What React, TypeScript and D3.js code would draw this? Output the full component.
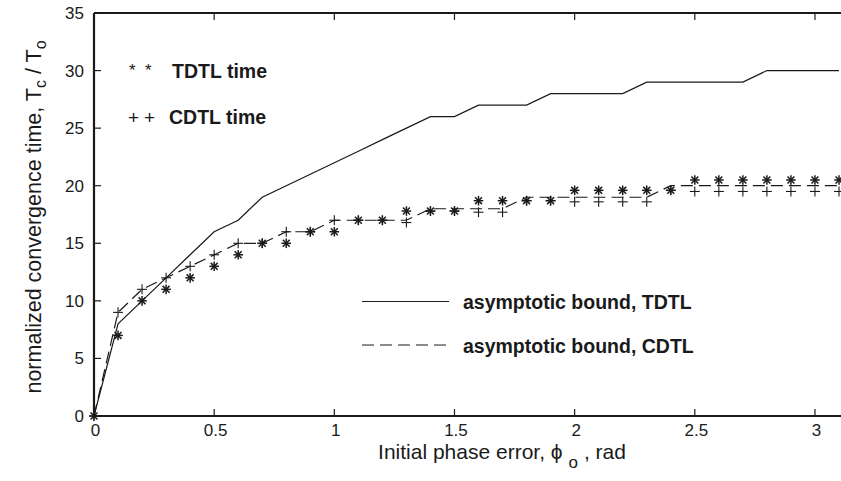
import React from 'react';
import * as d3 from 'd3';

const phase = [0, 0.1, 0.2, 0.3, 0.4, 0.5, 0.6, 0.7, 0.8, 0.9, 1.0, 1.1, 1.2, 1.3, 1.4, 1.5, 1.6, 1.7, 1.8, 1.9, 2.0, 2.1, 2.2, 2.3, 2.4, 2.5, 2.6, 2.7, 2.8, 2.9, 3.0, 3.1];
const boundTDTL = [0, 8, 10, 12, 14, 16, 17, 19, 20, 21, 22, 23, 24, 25, 26, 26, 27, 27, 27, 28, 28, 28, 28, 29, 29, 29, 29, 29, 30, 30, 30, 30];
const boundCDTL = [0, 9, 11, 12, 13, 14, 15, 15, 16, 16, 17, 17, 17, 17, 18, 18, 18, 18, 19, 19, 19, 19, 19, 19, 20, 20, 20, 20, 20, 20, 20, 20];
const timeTDTL = [0, 7, 10, 11, 12, 13, 14, 15, 15, 16, 16, 17, 17, 17.8, 17.8, 17.8, 18.7, 18.7, 18.7, 18.7, 19.6, 19.6, 19.6, 19.6, 19.6, 20.5, 20.5, 20.5, 20.5, 20.5, 20.5, 20.5];
const timeCDTL = [0, 9, 11, 12, 13, 14, 15, 15, 16, 16, 17, 17, 17, 16.8, 17.8, 17.8, 17.7, 17.7, 18.7, 18.7, 18.6, 18.6, 18.6, 18.6, 19.6, 19.5, 19.5, 19.5, 19.5, 19.5, 19.5, 19.5];
const xTicks = [0, 0.5, 1, 1.5, 2, 2.5, 3];
const xTickLabels = ['0', '0.5', '1', '1.5', '2', '2.5', '3'];
const yTicks = [0, 5, 10, 15, 20, 25, 30, 35];
const legendTop = ['TDTL time', 'CDTL time'];
const legendBottom = ['asymptotic bound, TDTL', 'asymptotic bound, CDTL'];

const W = 841;
const H = 481;
const FONT = '"Liberation Sans", Arial, Helvetica, sans-serif';
const INK = '#1a1a1a';

export default function App() {
  const x = d3.scaleLinear().domain([0, 3.1]).range([94, 839]);
  const y = d3.scaleLinear().domain([0, 35]).range([416, 13]);
  const line = d3.line<number>().x((_, i) => x(phase[i])).y((d) => y(d));

  const star = (cx: number, cy: number, k: string) => {
    const r = 4.8;
    const d = r * 0.72;
    return (
      <g key={k} stroke={INK} strokeWidth={1.5}>
        <line x1={cx - r} y1={cy} x2={cx + r} y2={cy} />
        <line x1={cx} y1={cy - r} x2={cx} y2={cy + r} />
        <line x1={cx - d} y1={cy - d} x2={cx + d} y2={cy + d} />
        <line x1={cx - d} y1={cy + d} x2={cx + d} y2={cy - d} />
      </g>
    );
  };
  const plus = (cx: number, cy: number, k: string) => {
    const r = 5;
    return (
      <g key={k} stroke={INK} strokeWidth={1.1}>
        <line x1={cx - r} y1={cy} x2={cx + r} y2={cy} />
        <line x1={cx} y1={cy - r} x2={cx} y2={cy + r} />
      </g>
    );
  };

  const [x0] = x.range();
  const [yb, yt] = y.range();

  return (
    <svg width={W} height={H} style={{ position: 'absolute', left: 0, top: 0, background: '#fff' }} fontFamily={FONT}>
      <rect x={0} y={0} width={W} height={H} fill="#fff" />
      {/* data */}
      <path d={line(boundTDTL) || ''} fill="none" stroke={INK} strokeWidth={1.2} />
      <path d={line(boundCDTL) || ''} fill="none" stroke={INK} strokeWidth={1.2} strokeDasharray="12,6" />
      {timeCDTL.map((v, i) => plus(x(phase[i]), y(v), 'p' + i))}
      {timeTDTL.map((v, i) => star(x(phase[i]), y(v), 's' + i))}

      {/* frame */}
      <line x1={x0} y1={yt} x2={W} y2={yt} stroke={INK} strokeWidth={2} />
      <line x1={x0} y1={yb} x2={W} y2={yb} stroke={INK} strokeWidth={2.2} />
      <line x1={x0} y1={yt} x2={x0} y2={yb} stroke={INK} strokeWidth={2.2} />

      {/* x ticks */}
      {xTicks.map((t, i) => (
        <g key={'xt' + i}>
          <line x1={x(t)} y1={yb} x2={x(t)} y2={yb - 7} stroke={INK} strokeWidth={1.2} />
          <line x1={x(t)} y1={yt} x2={x(t)} y2={yt + 7} stroke={INK} strokeWidth={1.2} />
          <text x={x(t) + 1.5} y={yb + 20} fontSize={17} textAnchor="middle" fill={INK}>{xTickLabels[i]}</text>
        </g>
      ))}
      {/* y ticks */}
      {yTicks.map((t, i) => (
        <g key={'yt' + i}>
          <line x1={x0} y1={y(t)} x2={x0 + 7} y2={y(t)} stroke={INK} strokeWidth={1.2} />
          <text x={84} y={y(t) + 6} fontSize={17} textAnchor="end" fill={INK}>{t}</text>
        </g>
      ))}

      {/* axis labels */}
      <text x={502} y={459} fontSize={21} textAnchor="middle" fill={INK}>
        Initial phase error, <tspan>ϕ</tspan><tspan dx={6} dy={9} fontSize={17}>o</tspan><tspan dy={-9}> , rad</tspan>
      </text>
      <text transform="translate(41,217) rotate(-90)" fontSize={21.5} textAnchor="middle" fill={INK}>
        normalized convergence time, T<tspan dy={5} fontSize={16}>c</tspan><tspan dy={-5}> / T</tspan><tspan dy={5} fontSize={16}>o</tspan>
      </text>

      {/* top-left legend */}
      <text x={129} y={76} fontSize={17} fill={INK}>*</text>
      <text x={145} y={76} fontSize={17} fill={INK}>*</text>
      <text x={172} y={78} fontSize={19.5} fontWeight="bold" fill={INK}>{legendTop[0]}</text>
      <text x={128} y={124} fontSize={19} fill={INK}>+</text>
      <text x={144} y={124} fontSize={19} fill={INK}>+</text>
      <text x={169} y={124} fontSize={19.5} fontWeight="bold" fill={INK}>{legendTop[1]}</text>

      {/* bottom legend */}
      <line x1={362} y1={301.5} x2={449} y2={301.5} stroke={INK} strokeWidth={1.2} />
      <text x={463} y={309} fontSize={19.5} fontWeight="bold" fill={INK}>{legendBottom[0]}</text>
      <line x1={362} y1={345} x2={449} y2={345} stroke={INK} strokeWidth={1.2} strokeDasharray="12,6" />
      <text x={463} y={352.5} fontSize={19.5} fontWeight="bold" fill={INK}>{legendBottom[1]}</text>
    </svg>
  );
}
